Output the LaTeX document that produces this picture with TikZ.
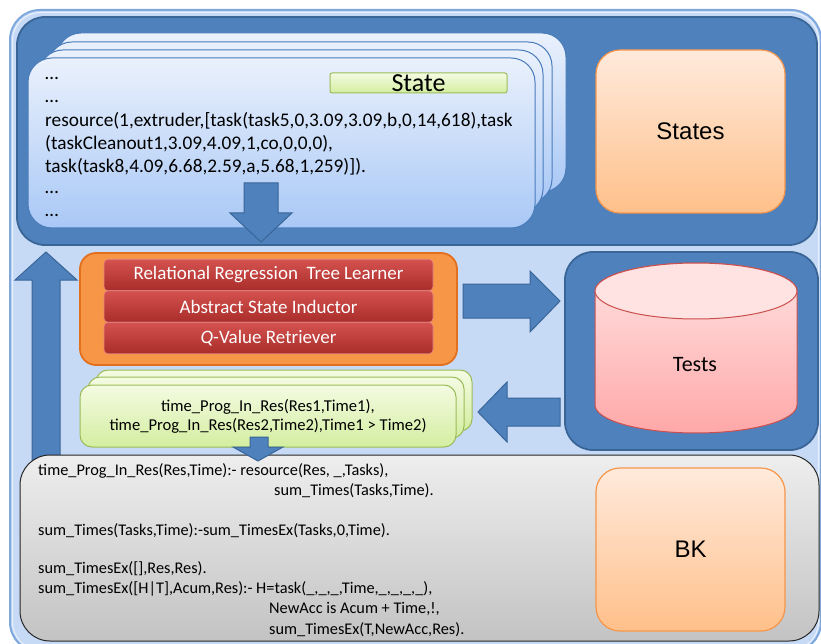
\documentclass[tikz,border=0pt]{standalone}
\usepackage{fontspec}
\setmainfont{Carlito}
\newfontfamily\arialfont{Liberation Sans}

\definecolor{framebg}{HTML}{C6DAF6}
\definecolor{frameedge}{HTML}{7FA8DC}
\definecolor{darkblue}{HTML}{4F81BD}
\definecolor{darkblueedge}{HTML}{3A6597}
\definecolor{cardtop}{HTML}{EAF1FC}
\definecolor{cardbot}{HTML}{A9C8F6}
\definecolor{cardedge}{HTML}{4A7CBA}
\definecolor{peachtop}{HTML}{FFEADC}
\definecolor{peachbot}{HTML}{FFC08A}
\definecolor{peachedge}{HTML}{F7964A}
\definecolor{orangefill}{HTML}{F79646}
\definecolor{orangeedge}{HTML}{E2701E}
\definecolor{redtop}{HTML}{D4524F}
\definecolor{redbot}{HTML}{A92D2A}
\definecolor{greentop}{HTML}{F4FBE2}
\definecolor{greenbot}{HTML}{D3EEA0}
\definecolor{greenedge}{HTML}{9BBB59}
\definecolor{graytop}{HTML}{EEEEEE}
\definecolor{graybot}{HTML}{C3C3C3}
\definecolor{cyltop}{HTML}{FFE2E2}
\definecolor{cylbot}{HTML}{FFA8A8}
\definecolor{cyledge}{HTML}{C9504D}

\tikzset{
  panel/.style={fill=darkblue, draw=darkblueedge, line width=1.8pt, rounded corners=28pt},
  card/.style={draw=cardedge, line width=1pt, top color=cardtop, bottom color=cardbot, rounded corners=24pt},
  greencard/.style={draw=greenedge, line width=1pt, top color=greentop, bottom color=greenbot, rounded corners=12pt},
  peachbox/.style={draw=peachedge, line width=1.2pt, top color=peachtop, bottom color=peachbot,
    rounded corners=24pt, inner sep=0pt, font=\arialfont\fontsize{24}{28}\selectfont},
  redbar/.style={draw=redtop!70!white, line width=0.6pt, top color=redtop, bottom color=redbot,
    rounded corners=4pt, minimum width=329, minimum height=31.5, inner sep=0pt,
    text=white, font=\fontsize{19}{22}\selectfont},
  blockarrow/.style={fill=darkblue, draw=darkblueedge, line width=1pt, line join=miter},
  cardtext/.style={anchor=base west, inner sep=0pt, font=\fontsize{19.3}{22}\selectfont},
  bktext/.style={anchor=base west, inner sep=0pt, font=\fontsize{16.3}{20}\selectfont},
}

\begin{document}
\begin{tikzpicture}[x=1pt,y=-1pt]
\useasboundingbox (0,0) rectangle (821,644);
\clip (0,0) rectangle (821,644);
\fill[white] (0,0) rectangle (821,644);

% outer frame
\draw[fill=framebg, draw=frameedge, line width=2pt, rounded corners=30pt] (10,10) rectangle (821,652);
\draw[draw=white, opacity=0.6, line width=1pt, rounded corners=28pt] (12.5,12.5) rectangle (818.5,650);

% states panel
\draw[panel] (17,17) rectangle (817,245);

% stacked state cards
\draw[card] (57,33) rectangle (566,192);
\draw[card] (48,42) rectangle (552,203);
\draw[card] (39,50) rectangle (543,213);
\draw[card] (28,58) rectangle (535,228);

% state tag
\node[draw=greenedge, line width=1pt, top color=greentop, bottom color=greenbot, rounded corners=2pt,
      minimum width=177, minimum height=20, inner sep=0pt, font=\fontsize{26}{26}\selectfont] (statetag) at (418.5,83) {State};

% state content
\node[cardtext] (c0) at (45,80) {…};
\node[cardtext] (c1) at (45,102.8) {…};
\node[cardtext] (c2) at (45,126.6) {resource(1,extruder,[task(task5,0,3.09,3.09,b,0,14,618),task};
\node[cardtext] (c3) at (45,149.4) {(taskCleanout1,3.09,4.09,1,co,0,0,0),};
\node[cardtext] (c4) at (45,172.2) {task(task8,4.09,6.68,2.59,a,5.68,1,259)]).};
\node[cardtext] (c5) at (45,194) {…};
\node[cardtext] (c6) at (45,216.8) {…};

% arrow out of the state cards
\draw[blockarrow] (244,183) -- (244,213) -- (230,213) -- (261,242) -- (292,213) -- (278,213) -- (278,183) -- cycle;

% States label box
\node[peachbox, minimum width=189, minimum height=163] (states) at (690.5,131.5) {States};

% tests panel with cylinder
\draw[panel] (565,252) rectangle (818,450);
\path[draw=cyledge, line width=1pt, top color=cyltop, bottom color=cylbot]
  (595,291) -- (595,405) arc[start angle=180, end angle=0, x radius=101, y radius=28]
  -- (797,291) arc[start angle=0, end angle=-180, x radius=101, y radius=28] -- cycle;
\draw[draw=cyledge, line width=1pt, fill=cyltop] (696,291) ellipse[x radius=101, y radius=28];
\node[font=\fontsize{22}{24}\selectfont] (tests) at (695,365) {Tests};

% learner block
\draw[draw=orangeedge, line width=1.8pt, fill=orangefill, rounded corners=16pt] (80,253) rectangle (457,365);
\node[redbar] (rrtl) at (268.5,275) {Relational Regression\ \ Tree Learner};
\node[redbar] (asi) at (268.5,306.5) {Abstract State Inductor};
\node[redbar] (qvr) at (268.5,338) {\textit{Q}-Value Retriever};

% loop back arrow
\draw[blockarrow] (32,460) -- (32,280) -- (15,280) -- (46,252) -- (77,280) -- (60,280) -- (60,460) -- cycle;

% learner to tests, tests to candidate tests
\draw[blockarrow] (463,284) -- (530,284) -- (530,271) -- (560,301) -- (530,332) -- (530,318) -- (463,318) -- cycle;
\draw[blockarrow] (560,398) -- (507,398) -- (507,382) -- (478,412) -- (507,442) -- (507,426) -- (560,426) -- cycle;

% candidate test cards
\draw[greencard] (96,370) rectangle (472,431);
\draw[greencard] (88,377) rectangle (464,438);
\draw[greencard] (80,385) rectangle (456,447);
\node[align=center, inner sep=0pt, font=\fontsize{16.6}{19}\selectfont] (cand) at (268,416.5)
  {time\_Prog\_In\_Res(Res1,Time1),\\time\_Prog\_In\_Res(Res2,Time2),Time1 > Time2)};

% background knowledge panel
\draw[draw=black!85, line width=1pt, top color=graytop, bottom color=graybot, rounded corners=30pt] (20,455) rectangle (819,641);
\node[bktext] (k1) at (38,475) {time\_Prog\_In\_Res(Res,Time):- resource(Res, \_,Tasks),};
\node[bktext] (k2) at (274,495) {sum\_Times(Tasks,Time).};
\node[bktext] (k3) at (38,535) {sum\_Times(Tasks,Time):-sum\_TimesEx(Tasks,0,Time).};
\node[bktext] (k4) at (38,573) {sum\_TimesEx([],Res,Res).};
\node[bktext] (k5) at (38,593) {sum\_TimesEx([H|T],Acum,Res):- H=task(\_,\_,\_,Time,\_,\_,\_,\_),};
\node[bktext] (k6) at (269,613) {NewAcc is Acum + Time,!,};
\node[bktext] (k7) at (269,634) {sum\_TimesEx(T,NewAcc,Res).};
\node[peachbox, minimum width=189, minimum height=163] (bk) at (690.5,549.5) {BK};

% candidate tests into background knowledge
\draw[blockarrow] (250,437) -- (250,447) -- (233,447) -- (258,461) -- (283,447) -- (268,447) -- (268,437) -- cycle;
\end{tikzpicture}
\end{document}
